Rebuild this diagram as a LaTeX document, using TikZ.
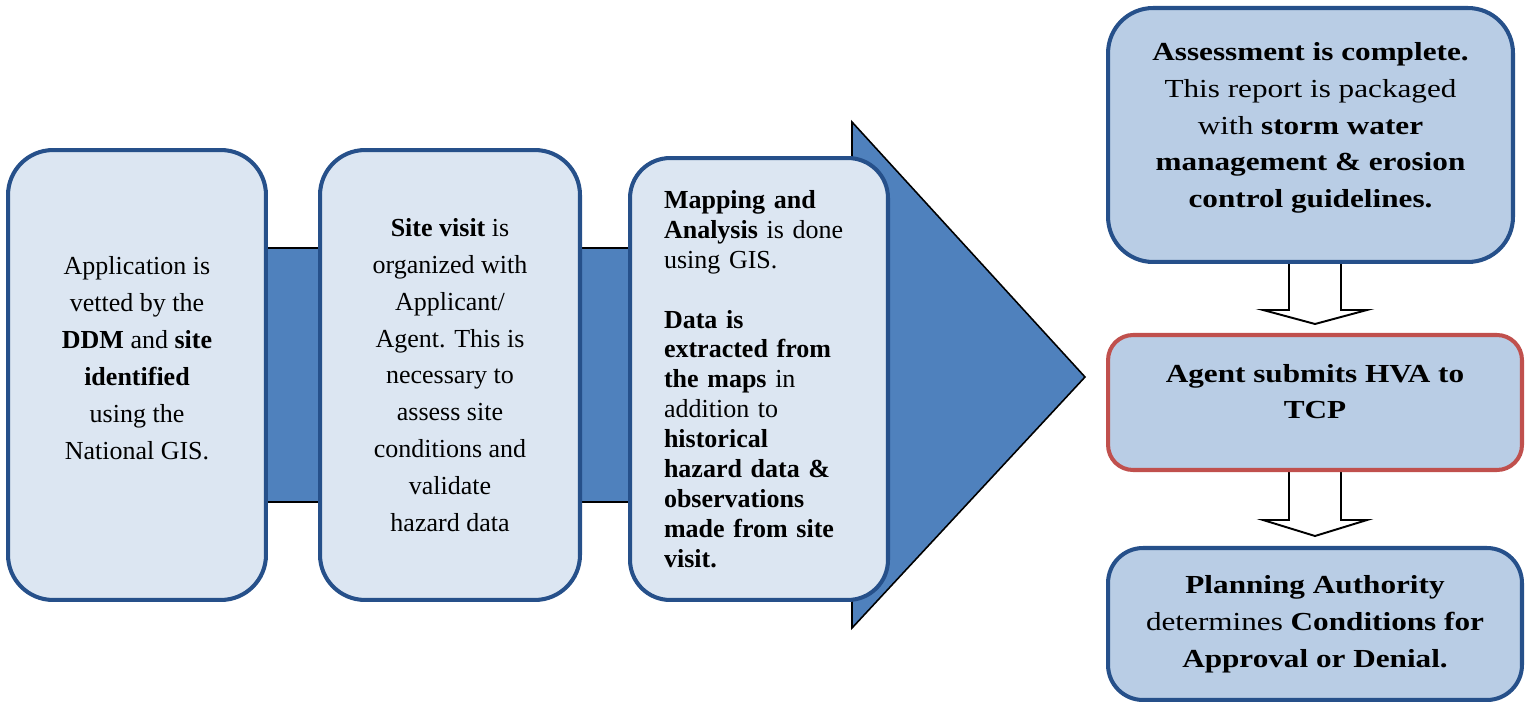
\documentclass[tikz,border=0pt]{standalone}
\usepackage{fontspec}
\setmainfont{Liberation Serif}
\newfontfamily\widefont[FakeStretch=1.2]{Liberation Serif}
\usetikzlibrary{calc}
\pgfdeclarelayer{edgelayer}
\pgfdeclarelayer{nodelayer}
\pgfsetlayers{edgelayer,nodelayer,main}
\definecolor{boxline}{RGB}{38,80,138}
\definecolor{paleblue}{RGB}{220,230,242}
\definecolor{midblue}{RGB}{185,205,229}
\definecolor{arrowblue}{RGB}{79,129,189}
\definecolor{redline}{RGB}{192,80,77}
\tikzset{font=\fontsize{14.8pt}{21pt}\selectfont}
\tikzstyle{lightbox}=[draw=boxline,fill=paleblue,line width=2.3pt,rounded corners=0.9cm,align=center,inner sep=0pt]
\tikzstyle{darkbox}=[draw=boxline,fill=midblue,line width=2.3pt,rounded corners=0.9cm,align=center,inner sep=0pt,font=\widefont\fontsize{14.8pt}{21pt}\selectfont]
\tikzstyle{bigarrow}=[fill=arrowblue,draw=black,line width=0.9pt,line join=miter]
\tikzstyle{downarrow}=[fill=white,draw=black,line width=1.1pt]

\begin{document}
\begin{tikzpicture}[x=0.02cm,y=-0.02cm]
	\useasboundingbox (0,0) rectangle (1530,702);
	\begin{pgfonlayer}{nodelayer}
		\node [style=lightbox, minimum width=5.16cm, minimum height=9cm] (0) at (137, 375) {Application is\\vetted by the\\\textbf{DDM} and \textbf{site}\\\textbf{identified}\\using the\\National GIS.\rule[-0.68cm]{0pt}{0pt}};
		\node [style=lightbox, minimum width=5.2cm, minimum height=9cm] (1) at (450, 375) {\textbf{Site visit} is\\organized with\\Applicant/\\Agent. This is\\necessary to\\assess site\\conditions and\\validate\\hazard data};
		\node [style=lightbox, minimum width=5.16cm, minimum height=8.84cm, rounded corners=0.8cm, text width=3.8cm, align=left, font=\fontsize{14.8pt}{17pt}\selectfont] (2) at (759, 379) {\textbf{Mapping and}\\\textbf{Analysis} is done\\using GIS.\\[17pt]\textbf{Data is}\\\textbf{extracted from}\\\textbf{the maps} in\\addition to\\\textbf{historical}\\\textbf{hazard data \&}\\\textbf{observations}\\\textbf{made from site}\\\textbf{visit.}};
		\node [style=darkbox, minimum width=8.1cm, minimum height=5.08cm] (3) at (1310.5, 135) {\textbf{Assessment is complete.}\\This report is packaged\\with \textbf{storm water}\\\textbf{management \& erosion}\\\textbf{control guidelines.}\rule[-0.4cm]{0pt}{0pt}};
		\node [style=darkbox, draw=redline, minimum width=8.28cm, minimum height=2.7cm, rounded corners=0.5cm] (4) at (1315, 402.5) {\textbf{Agent submits HVA to}\\\textbf{TCP}\rule[-0.44cm]{0pt}{0pt}};
		\node [style=darkbox, minimum width=8.28cm, minimum height=3.04cm, rounded corners=0.7cm] (5) at (1315, 624) {\textbf{Planning Authority}\\determines \textbf{Conditions for}\\\textbf{Approval or Denial.}};
	\end{pgfonlayer}
	\begin{pgfonlayer}{edgelayer}
		\draw [style=bigarrow] (140, 248) -- (852, 248) -- (852, 122) -- (1085, 377) -- (852, 628) -- (852, 502) -- (140, 502) -- cycle;
		\coordinate (6) at (3.south -| 4.north);
		\coordinate (7) at (4.south -| 5.north);
		\draw [style=downarrow] ($(6)+(-26,-4)$) -- ($(6)+(-26,46)$) -- ($(6)+(-52,46)$) -- ($(4.north)+(0,-9)$) -- ($(6)+(52,46)$) -- ($(6)+(26,46)$) -- ($(6)+(26,-4)$);
		\draw [style=downarrow] ($(7)+(-26,-4)$) -- ($(7)+(-26,48)$) -- ($(7)+(-52,48)$) -- ($(5.north)+(0,-10)$) -- ($(7)+(52,48)$) -- ($(7)+(26,48)$) -- ($(7)+(26,-4)$);
	\end{pgfonlayer}
\end{tikzpicture}
\end{document}
